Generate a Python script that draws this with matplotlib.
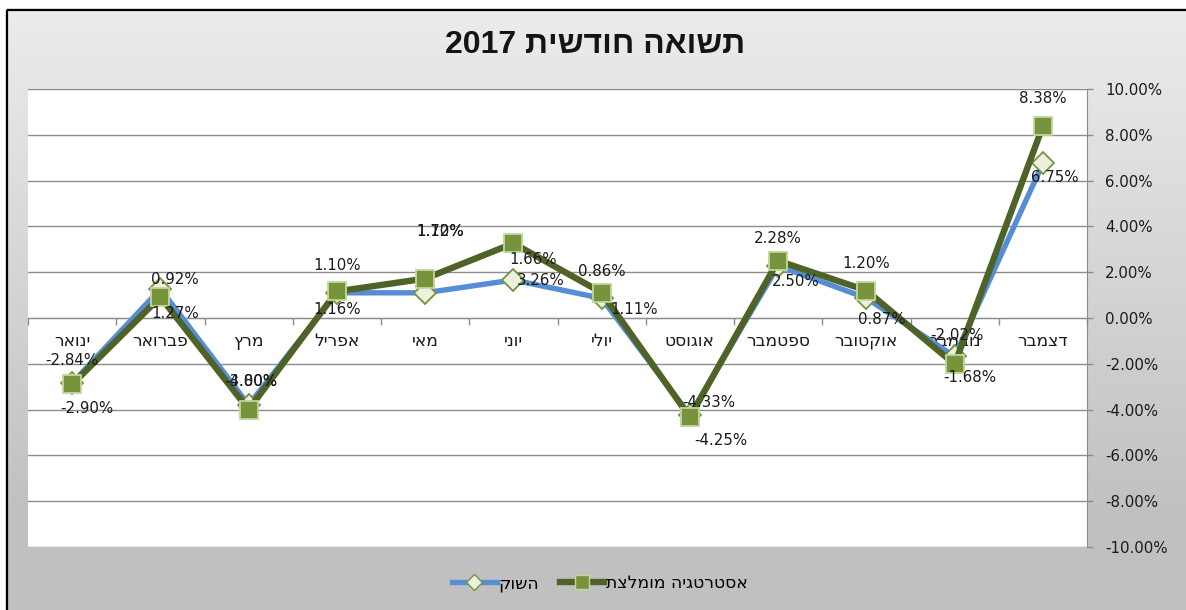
import re
import numpy as np
import matplotlib
matplotlib.use('Agg')
import matplotlib.pyplot as plt
from matplotlib.patches import Rectangle
from matplotlib.lines import Line2D

# ---------------- data ----------------
months = ['ינואר', 'פברואר', 'מרץ', 'אפריל', 'מאי', 'יוני', 'יולי',
          'אוגוסט', 'ספטמבר', 'אוקטובר', 'נובמבר', 'דצמבר']
market = [-2.84, 1.27, -3.80, 1.10, 1.10, 1.66, 0.86, -4.25, 2.28, 0.87, -1.68, 6.75]
strategy = [-2.90, 0.92, -4.00, 1.16, 1.72, 3.26, 1.11, -4.33, 2.50, 1.20, -2.02, 8.38]
title_text = 'תשואה חודשית 2017'
market_name = 'השוק'
strategy_name = 'אסטרטגיה מומלצת'
y_ticks = [-10, -8, -6, -4, -2, 0, 2, 4, 6, 8, 10]

# label offsets (pixels: dx right, dy down) -- styling only
market_off = [(0, -23), (15, 25), (2, -24), (0, -27), (15, -61), (20, -20),
              (0, -27), (31, 25), (0, -27), (15, 21), (15, 21), (12, 14)]
strategy_off = [(15, 24), (14, -17), (2, -28), (0, 18), (15, -47), (27, 37),
                (33, 17), (19, -15), (18, 21), (0, -27), (2, -29), (0, -28)]


def rtl(s):
    """Convert logical Hebrew text into visual (left-to-right) order."""
    r = s[::-1]
    return re.sub(r'[0-9.%\-]+', lambda m: m.group(0)[::-1], r)


FONT = ['DejaVu Sans', 'Liberation Sans']
plt.rcParams['font.family'] = FONT

W, H = 1186, 610
fig = plt.figure(figsize=(W / 100, H / 100), dpi=100)
fig.patch.set_facecolor('white')

# ---------------- background with gradient & border ----------------
bg = fig.add_axes([0, 0, 1, 1], zorder=-10)
bg.set_xlim(0, W)
bg.set_ylim(H, 0)
bg.axis('off')
ys = np.arange(0, H) + 0.5
vals = np.clip(236 - (ys - 10) * (236 - 192) / (520 - 10), 192, 236) / 255.0
img = np.ones((H, W, 3))
img[:, :, :] = vals[:, None, None]
img[:10, :, :] = 1.0
img[:, :7, :] = 1.0
bg.imshow(img, extent=(0, W, H, 0), aspect='auto', interpolation='nearest')
bg.add_patch(Rectangle((5.5, 8.5), W + 20, H + 20, fill=False, ec='#b8b8b8', lw=1.0))
bg.add_patch(Rectangle((7, 10), W + 20, H + 20, fill=False, ec='black', lw=1.6))

# ---------------- main axes ----------------
left, right, top, bottom = 28, 1087, 89, 547
ax = fig.add_axes([left / W, (H - bottom) / H, (right - left) / W, (bottom - top) / H])
ax.set_facecolor('white')

x = np.arange(len(months))
blue = '#558ED5'
dgreen = '#4F6228'
mgreen = '#77933C'

ax.plot(x, market, color=blue, lw=3.9, solid_joinstyle='miter', zorder=3,
        marker='D', markersize=11, markerfacecolor='#EBF1DE',
        markeredgecolor=mgreen, markeredgewidth=1.3)
ax.plot(x, strategy, color=dgreen, lw=4.6, solid_joinstyle='miter', zorder=4,
        marker='s', markersize=13, markerfacecolor=mgreen,
        markeredgecolor='#C3D69B', markeredgewidth=1.3)

# data labels
for i in range(len(months)):
    dx, dy = market_off[i]
    ax.annotate(f'{market[i]:.2f}%', (x[i], market[i]), xytext=(dx, -dy),
                textcoords='offset pixels', ha='center', va='center',
                fontsize=10.8, color='#1a1a1a', zorder=6)
    dx, dy = strategy_off[i]
    ax.annotate(f'{strategy[i]:.2f}%', (x[i], strategy[i]), xytext=(dx, -dy),
                textcoords='offset pixels', ha='center', va='center',
                fontsize=10.8, color='#1a1a1a', zorder=6)

ax.set_xlim(-0.5, len(months) - 0.5)
ax.set_ylim(-10, 10)

gray = '#8c8c8c'
ax.yaxis.tick_right()
ax.set_yticks(y_ticks)
ax.set_yticklabels([f'{v:.2f}%' for v in y_ticks])
ax.tick_params(axis='y', length=4.5, width=1, color=gray, pad=8.5,
               labelsize=10.8, labelcolor='#1a1a1a')
ax.grid(axis='y', color=gray, lw=1.0, zorder=1)
ax.set_axisbelow(True)

ax.spines['bottom'].set_position(('data', 0))
ax.spines['bottom'].set_color(gray)
ax.spines['right'].set_color(gray)
ax.spines['left'].set_visible(False)
ax.spines['top'].set_visible(False)

ax.set_xticks(x)
ax.set_xticklabels([rtl(m) for m in months])
ax.set_xticks(np.arange(-0.5, len(months), 1), minor=True)
ax.tick_params(axis='x', which='major', length=0, pad=10, labelsize=12.3,
               labelcolor='#1a1a1a')
ax.tick_params(axis='x', which='minor', length=5, width=1, color=gray)

# title
fig.text(595 / W, 1 - 45 / H, rtl(title_text), ha='center', va='center',
         fontsize=23, fontweight='bold', family=['Liberation Sans', 'DejaVu Sans'],
         color='#141414')

# legend
h_market = Line2D([], [], color=blue, lw=3.8, marker='D', markersize=8,
                  markerfacecolor='#EBF1DE', markeredgecolor=mgreen, markeredgewidth=1.0)
h_strat = Line2D([], [], color=dgreen, lw=4.6, marker='s', markersize=10,
                 markerfacecolor=mgreen, markeredgecolor='#C3D69B', markeredgewidth=1.0)
fig.legend([h_market, h_strat], [rtl(market_name), rtl(strategy_name)],
           loc='center', bbox_to_anchor=(600 / W, 1 - 583 / H), ncol=2,
           frameon=False, handlelength=2.6, handletextpad=0.1,
           columnspacing=1.2, fontsize=12.4)

fig.savefig('out.png', dpi=100)
